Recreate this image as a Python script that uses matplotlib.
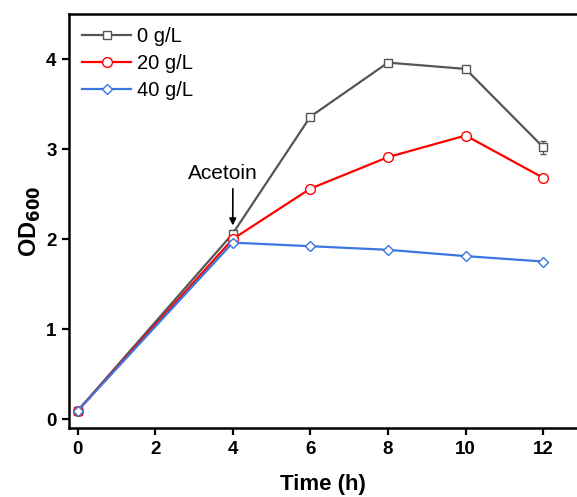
import matplotlib
matplotlib.use("Agg")
import matplotlib.pyplot as plt

plt.rcParams["font.family"] = ["Liberation Sans", "DejaVu Sans"]

# Data
time_h = [0, 4, 6, 8, 10, 12]
labels = ["0 g/L", "20 g/L", "40 g/L"]
od_0 = [0.09, 2.06, 3.36, 3.96, 3.89, 3.02]
od_20 = [0.09, 2.00, 2.56, 2.91, 3.15, 2.68]
od_40 = [0.09, 1.96, 1.92, 1.88, 1.81, 1.75]
err_0 = [0.02, 0.04, 0.03, 0.03, 0.02, 0.07]
err_20 = [0.02, 0.03, 0.02, 0.02, 0.03, 0.02]
err_40 = [0.02, 0.03, 0.03, 0.02, 0.02, 0.02]

colors = ["#555555", "#ff0000", "#3a78e0"]
markers = ["s", "o", "D"]
sizes = [6, 7, 5.5]

fig = plt.figure(figsize=(5.77, 4.97), dpi=100)
ax = fig.add_axes([0.1196, 0.1388, 0.8804, 0.833])

handles = []
for y, e, lab, c, m, s in zip([od_0, od_20, od_40], [err_0, err_20, err_40],
                              labels, colors, markers, sizes):
    ax.errorbar(time_h, y, yerr=e, fmt="none", ecolor=c, capsize=2.5, elinewidth=0.8)
    line, = ax.plot(time_h, y, color=c, lw=1.6, marker=m, ms=s,
                    mfc="white", mec=c, mew=1.0, label=lab)
    handles.append(line)

ax.set_xlim(-0.22, 12.87)
ax.set_ylim(-0.1, 4.5)
ax.set_xticks([0, 2, 4, 6, 8, 10, 12])
ax.set_yticks([0, 1, 2, 3, 4])

for sp in ["left", "bottom", "top"]:
    ax.spines[sp].set_linewidth(1.8)
ax.spines["right"].set_visible(False)
ax.tick_params(direction="out", length=5, width=1.6, labelsize=13.5, pad=4)
for t in ax.get_xticklabels() + ax.get_yticklabels():
    t.set_fontweight("bold")

ax.set_xlabel("Time (h)", fontsize=16, fontweight="bold", labelpad=12)
ax.set_ylabel("OD$_{\\mathbf{600}}$", fontsize=17, fontweight="bold", labelpad=2)

ax.annotate("Acetoin", xy=(4, 2.12), xytext=(3.75, 2.62), ha="center", va="bottom",
            fontsize=15, arrowprops=dict(arrowstyle="-|>", color="black", lw=1.2,
                                         mutation_scale=10, relpos=(0.64, 0)))

ax.legend(handles=handles, loc="upper left", frameon=False, fontsize=14.5,
          handlelength=2.45, handletextpad=0.3, labelspacing=0.4,
          borderaxespad=0.35, borderpad=0.3)

fig.savefig("out.png", dpi=100)
